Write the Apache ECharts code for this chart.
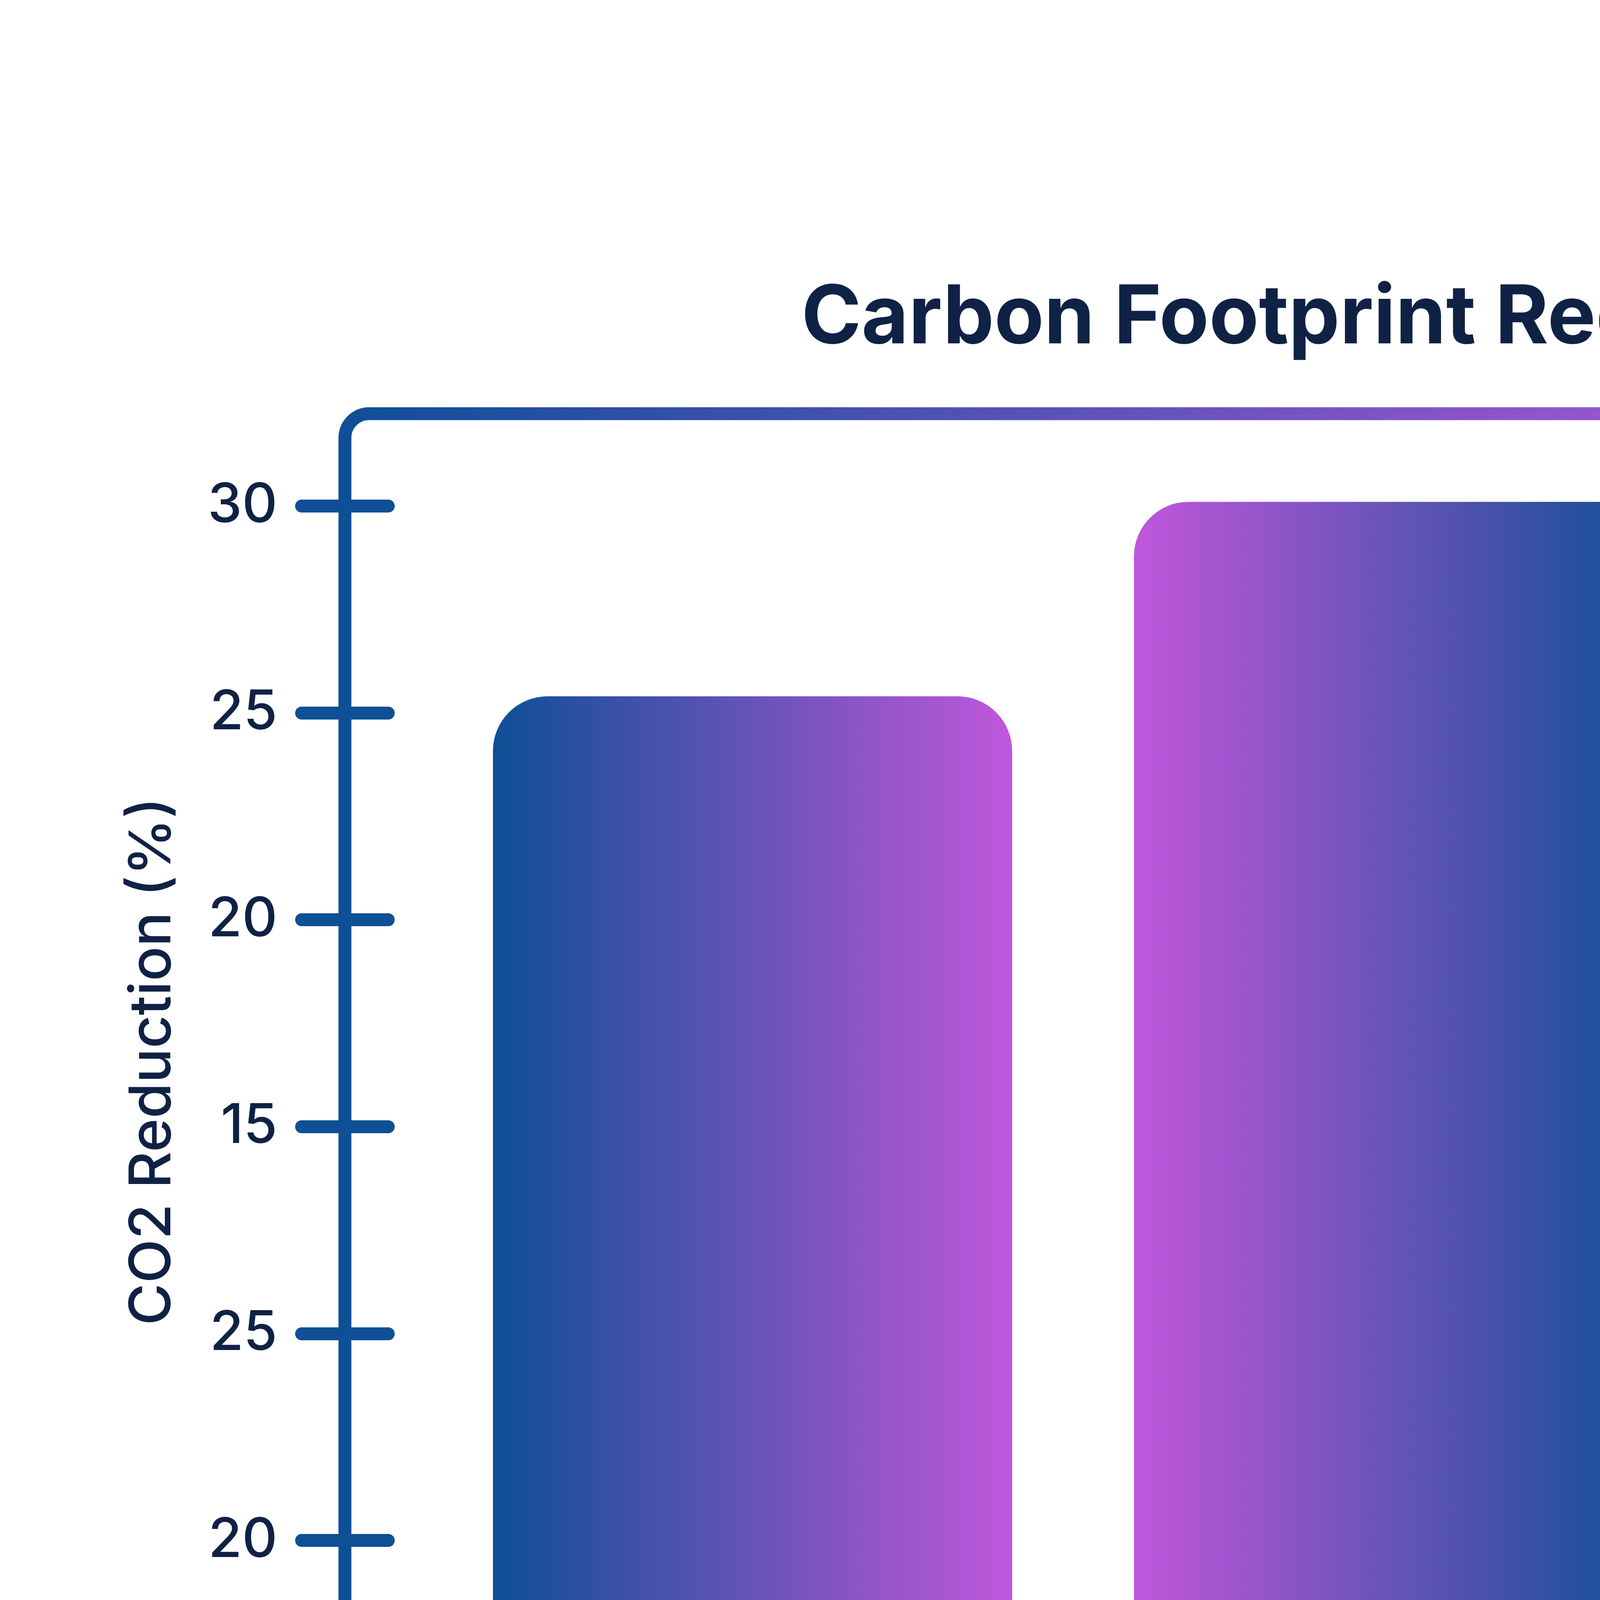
<!DOCTYPE html>
<html>
<head>
<meta charset="utf-8">
<title>Carbon Footprint Reduction Strategies</title>
<script src="https://cdn.jsdelivr.net/npm/echarts@6/dist/echarts.min.js"></script>
<style>
    html, body { margin: 0; padding: 0; background: #fff; }
    #chart { width: 8000px; height: 5675px; }
</style>
</head>
<body>
<div id="chart"></div>
<script>
// data
var categories = ["Material Substitution", "Energy Efficiency", "Transport Optimisation", "Waste Reduction"];
var reductions = [25.4, 30.1, 20.3, 15.3];
var tickValues = [0, 5, 10, 15, 20, 25, 30];
var tickLabels = ["0", "20", "25", "15", "20", "25", "30"];

var BLUE = "#0E4F96";
var PINK = "#C057DC";
var INK = "#0F2245";
var FONT = "Inter";

// value range of the framed plot area; bars start just above the bottom frame line
var Y_MIN = -1.98;
var Y_MAX = 32.23;
var BAR_BASE = -1.88;

function barFill(i) {
    // odd bars run blue -> pink, even bars pink -> blue
    var from = i % 2 === 0 ? BLUE : PINK;
    var to = i % 2 === 0 ? PINK : BLUE;
    return new echarts.graphic.LinearGradient(0, 0, 1, 0, [
        { offset: 0, color: from },
        { offset: 1, color: to },
    ]);
}

function renderBar(params, api) {
    var idx = api.value(0);
    var top = api.coord([idx, api.value(1)]);
    var base = api.coord([idx, BAR_BASE]);
    var w = api.size([1, 0])[0] * 0.81;
    return {
        type: "rect",
        shape: { x: top[0] - w / 2, y: top[1], width: w, height: base[1] - top[1], r: [140, 140, 0, 0] },
        style: { fill: barFill(idx) },
    };
}

function tickFormatter(value) {
    var k = tickValues.indexOf(value);
    return k < 0 ? "" : tickLabels[k];
}

var tickLine = { color: BLUE, width: 33, cap: "round" };

var yCommon = {
    type: "value",
    min: Y_MIN,
    max: Y_MAX,
    position: "left",
    offset: 223,
    axisLine: { show: false },
    splitLine: { show: false },
};

var chart = echarts.init(document.getElementById("chart"));

chart.setOption({
    backgroundColor: "#fff",
    animation: false,
    title: [
        {
            text: "Carbon Footprint Reduction Strategies",
            left: "center",
            top: 712,
            padding: 0,
            textStyle: { fontFamily: FONT, fontSize: 208, fontWeight: 700, color: INK },
        },
        {
            text: "© Institute of Project Management",
            left: "center",
            top: 5372,
            padding: 0,
            textStyle: { fontFamily: FONT, fontSize: 104, fontWeight: 500, color: INK },
        },
    ],
    grid: { left: 1106, right: 330, top: 1059, bottom: 992, outerBoundsMode: "none" },
    xAxis: {
        type: "category",
        data: categories,
        axisLine: { show: false },
        axisTick: { show: false },
        axisLabel: { interval: 0, margin: 148, fontFamily: FONT, fontSize: 147, fontWeight: 500, color: INK },
    },
    yAxis: [
        Object.assign({}, yCommon, {
            name: "CO2 Reduction (%)",
            nameLocation: "middle",
            nameGap: 418,
            nameRotate: 90,
            nameTextStyle: { fontFamily: FONT, fontSize: 147, fontWeight: 500, color: INK, padding: [0, 0, 0, 308] },
            axisTick: { show: true, inside: false, length: 111, customValues: tickValues, lineStyle: tickLine },
            axisLabel: {
                customValues: tickValues,
                margin: 173,
                formatter: tickFormatter,
                fontFamily: FONT,
                fontSize: 140,
                fontWeight: 500,
                color: INK,
            },
        }),
        Object.assign({}, yCommon, {
            axisTick: { show: true, inside: true, length: 111, customValues: tickValues, lineStyle: tickLine },
            axisLabel: { show: false },
        }),
    ],
    graphic: [
        {
            type: "rect",
            z: 1,
            shape: { x: 883, y: 1059, width: 6801, height: 3624, r: 62 },
            style: {
                fill: "none",
                lineWidth: 33,
                stroke: new echarts.graphic.LinearGradient(0, 0, 1, 0, [
                    { offset: 0, color: BLUE },
                    { offset: 0.62, color: PINK },
                    { offset: 1, color: PINK },
                ]),
            },
        },
    ],
    series: [
        {
            type: "custom",
            z: 3,
            clip: false,
            renderItem: renderBar,
            encode: { x: 0, y: 1 },
            data: reductions.map(function (v, i) { return [i, v]; }),
        },
    ],
});
</script>
</body>
</html>
